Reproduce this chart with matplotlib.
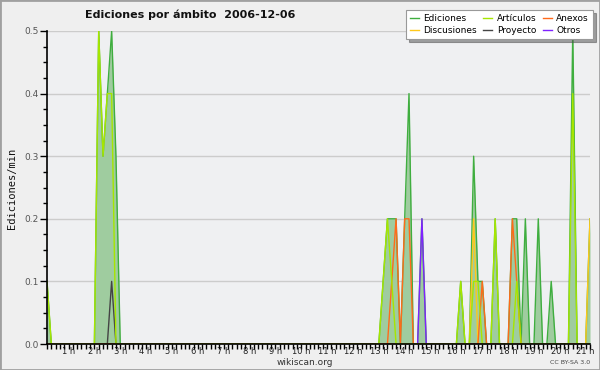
import matplotlib
matplotlib.use('Agg')
import matplotlib.pyplot as plt
import matplotlib.patches as patches
from matplotlib.ticker import FixedLocator, MultipleLocator, FormatStrFormatter
import numpy as np

# Edits per minute, 10-minute bins (only the non-zero bins are listed)
ediciones_t = ['00:10', '02:10', '02:20', '02:30', '02:40', '02:50',
               '13:10', '13:20', '13:30', '13:40', '14:00', '14:10', '14:40',
               '16:10', '16:40', '16:50', '17:00', '17:30', '18:10', '18:20',
               '18:40', '19:10', '19:40', '20:30', '21:10']
ediciones_v = [0.1, 0.5, 0.3, 0.4, 0.5, 0.3,
               0.1, 0.2, 0.2, 0.2, 0.2, 0.4, 0.2,
               0.1, 0.3, 0.1, 0.1, 0.2, 0.2, 0.2,
               0.2, 0.2, 0.1, 0.5, 0.2]

articulos_t = ['00:10', '02:10', '02:20', '02:30', '02:40',
               '13:10', '13:20', '13:30', '16:10', '16:40', '16:50',
               '17:30', '18:20', '20:30']
articulos_v = [0.1, 0.5, 0.3, 0.4, 0.4,
               0.1, 0.2, 0.1, 0.1, 0.1, 0.1,
               0.2, 0.1, 0.4]

anexos_t = ['13:30', '13:40', '14:00', '14:10', '17:00', '18:10', '18:20']
anexos_v = [0.1, 0.2, 0.2, 0.2, 0.1, 0.2, 0.1]

discusiones_t = ['16:40', '21:10']
discusiones_v = [0.2, 0.2]

proyecto_t = ['02:40']
proyecto_v = [0.1]

otros_t = ['14:40']
otros_v = [0.2]

start_min, end_min = 10, 1270
hour_labels = [f'{h} h' for h in range(1, 22)]

colors = {
    'Ediciones': '#3fae3f',
    'Artículos': '#a6e600',
    'Anexos': '#ff6a1a',
    'Discusiones': '#ffc81a',
    'Proyecto': '#444444',
    'Otros': '#7f22ff',
}

grid = np.arange(start_min, end_min + 1, 10)
x = grid / 60.0


def to_series(times, values):
    s = np.zeros(len(grid))
    for t, v in zip(times, values):
        hh, mm = t.split(':')
        s[(int(hh) * 60 + int(mm) - start_min) // 10] = v
    return s


fig = plt.figure(figsize=(6, 3.7), dpi=100)
fig.patch.set_facecolor('#efefef')
ax = fig.add_axes([47 / 600, 26 / 370, 543 / 600, 313 / 370])
ax.set_facecolor('#eff0f2')

total = to_series(ediciones_t, ediciones_v)
ax.fill_between(x, 0, total, color='#9fcc9f', lw=0, zorder=2)

for name, t, v in [('Proyecto', proyecto_t, proyecto_v),
                   ('Otros', otros_t, otros_v),
                   ('Discusiones', discusiones_t, discusiones_v),
                   ('Anexos', anexos_t, anexos_v),
                   ('Artículos', articulos_t, articulos_v)]:
    ax.plot(x, to_series(t, v), color=colors[name], lw=1.0, zorder=4, label=name)
ax.plot(x, total, color=colors['Ediciones'], lw=1.0, zorder=3, label='Ediciones')

ax.set_xlim(start_min / 60, end_min / 60)
ax.set_ylim(0, 0.5)

ax.yaxis.set_major_locator(MultipleLocator(0.1))
ax.yaxis.set_minor_locator(MultipleLocator(0.025))
ax.yaxis.set_major_formatter(FormatStrFormatter('%.1f'))
ax.xaxis.set_major_locator(FixedLocator(range(1, 22)))
ax.set_xticklabels(hour_labels)
ax.xaxis.set_minor_locator(FixedLocator(x))
ax.tick_params(axis='both', which='both', direction='out', color='black', width=1)
ax.tick_params(axis='y', which='major', length=5, labelsize=6.5, labelcolor='#555555', pad=1)
ax.tick_params(axis='y', which='minor', length=3)
ax.tick_params(axis='x', which='major', length=3.5, labelsize=6, labelcolor='#222222', pad=-1.5)
ax.tick_params(axis='x', which='minor', length=3.5)

ax.grid(axis='y', color='#cccccc', lw=1, zorder=1)
ax.set_axisbelow(True)
for side in ['top', 'right']:
    ax.spines[side].set_visible(False)
for side in ['left', 'bottom']:
    ax.spines[side].set_linewidth(1.2)
    ax.spines[side].set_zorder(5)

fig.text(85 / 600, 1 - 15 / 370, 'Ediciones por ámbito  2006-12-06', fontsize=8,
         fontweight='bold', ha='left', va='center', color='#111111')
fig.text(12 / 600, 1 - 188 / 370, 'Ediciones/min', rotation=90, fontsize=7.5,
         family='DejaVu Sans Mono', ha='center', va='center', color='#111111')
fig.text(305 / 600, 1 - 362.5 / 370, 'wikiscan.org', fontsize=6.5, ha='center',
         va='center', color='#333333')
fig.text(590 / 600, 1 - 362.5 / 370, 'CC BY-SA 3.0', fontsize=4.5, ha='right',
         va='center', color='#444444')

handles, labels = ax.get_legend_handles_labels()
order = ['Ediciones', 'Discusiones', 'Artículos', 'Proyecto', 'Anexos', 'Otros']
hmap = dict(zip(labels, handles))
leg = fig.legend([hmap[k] for k in order], order, ncol=3, fontsize=6.5,
                 loc='upper right', bbox_to_anchor=(593 / 600, 1 - 10 / 370),
                 frameon=True, fancybox=False, shadow=True, handlelength=1.0,
                 handletextpad=0.5, columnspacing=0.7, labelspacing=0.3,
                 borderpad=0.45, borderaxespad=0)
leg.get_frame().set_facecolor('#ffffff')
leg.get_frame().set_edgecolor('#999999')
leg.get_frame().set_linewidth(0.8)
leg.set_zorder(10)

fig.patches.append(patches.Rectangle((0, 0), 1, 1, transform=fig.transFigure,
                                     fill=False, edgecolor='#a0a0a0', lw=2))

fig.savefig('out.png', dpi=100, facecolor=fig.get_facecolor())
